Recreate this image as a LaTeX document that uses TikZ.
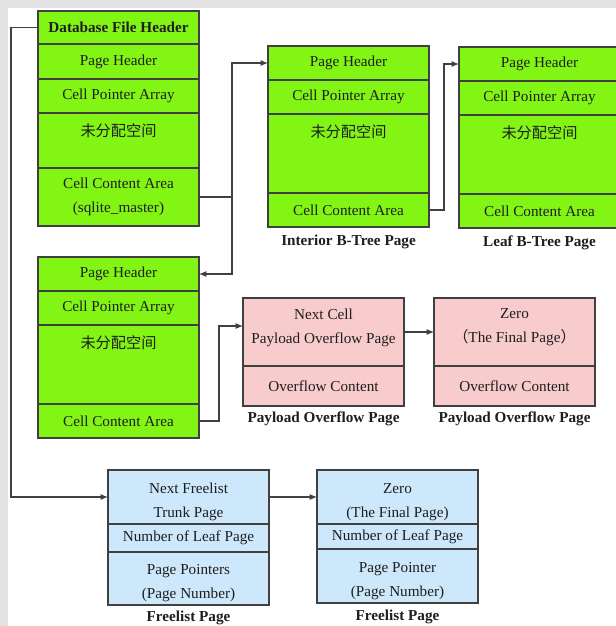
\documentclass[tikz,border=0pt]{standalone}
\usepackage{fontspec}
\setmainfont{Liberation Serif}
\newfontfamily\cjk{Noto Sans CJK SC}
\usetikzlibrary{positioning,arrows.meta}
\definecolor{pagegreen}{RGB}{130,245,20}
\definecolor{ovpink}{RGB}{248,204,204}
\definecolor{freeblue}{RGB}{204,232,250}
\definecolor{edge}{RGB}{64,64,64}
\definecolor{ink}{RGB}{30,30,30}
\definecolor{margin}{RGB}{227,227,227}

\begin{document}
\begin{tikzpicture}[x=0.75pt, y=-0.75pt,
  row/.style={draw=edge, line width=0.9pt, minimum width=120.75pt, inner sep=0pt, outer sep=0pt,
    align=center, text=ink, font=\fontsize{11.4}{18}\selectfont},
  gcell/.style={row, fill=pagegreen},
  pcell/.style={row, fill=ovpink},
  bcell/.style={row, fill=freeblue},
  spacecell/.style={gcell, font=\cjk\fontsize{11.4}{18}\selectfont, text height=17.7pt},
  pagename/.style={font=\bfseries\fontsize{11.4}{13}\selectfont, text=ink, inner sep=0pt, text height=8pt, text depth=2.5pt},
  link/.style={draw=edge, line width=0.8pt, -{Latex[length=5.5pt,width=4.5pt]}}]

% page size and grey margin
\useasboundingbox (0,0) rectangle (616,626);
\clip (0,0) rectangle (616,626);
\fill[margin] (0,0) rectangle (616,626);
\fill[white] (8,8) rectangle (616,626);

% database file (page 1)
\node[gcell, anchor=north west, minimum height=24.75pt, font=\bfseries\fontsize{11.4}{18}\selectfont] (db1) at (38,11) {Database File Header};
\node[gcell, below=0pt of db1, minimum height=26.25pt] (db2) {Page Header};
\node[gcell, below=0pt of db2, minimum height=25.5pt] (db3) {Cell Pointer Array};
\node[spacecell, below=0pt of db3, text depth=23.55pt] (db4) {未分配空间};
\node[gcell, below=0pt of db4, minimum height=43.5pt] (db5) {Cell Content Area\\(sqlite\_master)};

% interior b-tree page
\node[gcell, anchor=north west, minimum height=25.5pt] (in1) at (268,46) {Page Header};
\node[gcell, below=0pt of in1, minimum height=25.5pt] (in2) {Cell Pointer Array};
\node[spacecell, below=0pt of in2, text depth=41.55pt] (in3) {未分配空间};
\node[gcell, below=0pt of in3, minimum height=25.5pt] (in4) {Cell Content Area};
\node[pagename, below=6pt of in4] (inname) {Interior B-Tree Page};

% leaf b-tree page
\node[gcell, anchor=north west, minimum height=25.5pt] (lf1) at (459,47) {Page Header};
\node[gcell, below=0pt of lf1, minimum height=25.5pt] (lf2) {Cell Pointer Array};
\node[spacecell, below=0pt of lf2, text depth=41.55pt] (lf3) {未分配空间};
\node[gcell, below=0pt of lf3, minimum height=25.5pt] (lf4) {Cell Content Area};
\node[pagename, below=6pt of lf4] (lfname) {Leaf B-Tree Page};

% second b-tree page
\node[gcell, anchor=north west, minimum height=25.5pt] (sub1) at (38,257) {Page Header};
\node[gcell, below=0pt of sub1, minimum height=25.5pt] (sub2) {Cell Pointer Array};
\node[spacecell, below=0pt of sub2, text depth=41.55pt] (sub3) {未分配空间};
\node[gcell, below=0pt of sub3, minimum height=25.5pt] (sub4) {Cell Content Area};

% payload overflow pages
\node[pcell, anchor=north west, minimum height=51pt, text depth=9pt] (ov1) at (243,298) {Next Cell\\Payload Overflow Page};
\node[pcell, below=0pt of ov1, minimum height=30pt] (ov2) {Overflow Content};
\node[pagename, below=4.5pt of ov2] (ovname) {Payload Overflow Page};
\node[pcell, anchor=north west, minimum height=51pt, text depth=9pt] (oz1) at (434,298) {Zero\\{\cjk （}The Final Page{\cjk ）}};
\node[pcell, below=0pt of oz1, minimum height=30pt] (oz2) {Overflow Content};
\node[pagename, below=4.5pt of oz2] (ozname) {Payload Overflow Page};

% freelist pages
\node[bcell, anchor=north west, minimum height=40.5pt, text height=32.5pt] (fl1) at (108,470) {Next Freelist\\Trunk Page};
\node[bcell, below=0pt of fl1, minimum height=21pt] (fl2) {Number of Leaf Page};
\node[bcell, below=0pt of fl2, minimum height=39.75pt, text height=32.5pt] (fl3) {Page Pointers\\(Page Number)};
\node[pagename, below=4.5pt of fl3] (flname) {Freelist Page};
\node[bcell, anchor=north west, minimum height=40.5pt, text height=32.5pt] (fz1) at (317,470) {Zero\\(The Final Page)};
\node[bcell, below=0pt of fz1, minimum height=18.75pt] (fz2) {Number of Leaf Page};
\node[bcell, below=0pt of fz2, minimum height=40.5pt, text height=32.5pt] (fz3) {Page Pointer\\(Page Number)};
\node[pagename, below=5pt of fz3] (fzname) {Freelist Page};

% pointers
\draw[link] (db1.west) -- ++(-27,0) |- (fl1.west);
\draw[link] (db5.east) -- ++(33,0) coordinate (fork) |- (in1.west);
\draw[link] (fork) |- (sub1.east);
\draw[link] (in4.east) -- ++(15,0) |- (lf1.west);
\draw[link] (sub4.east) -- ++(20,0) |- ([yshift=4.5pt]ov1.west);
\draw[link] (ov1.east) -- (oz1.west);
\draw[link] (fl1.east) -- (fz1.west);
\end{tikzpicture}
\end{document}
